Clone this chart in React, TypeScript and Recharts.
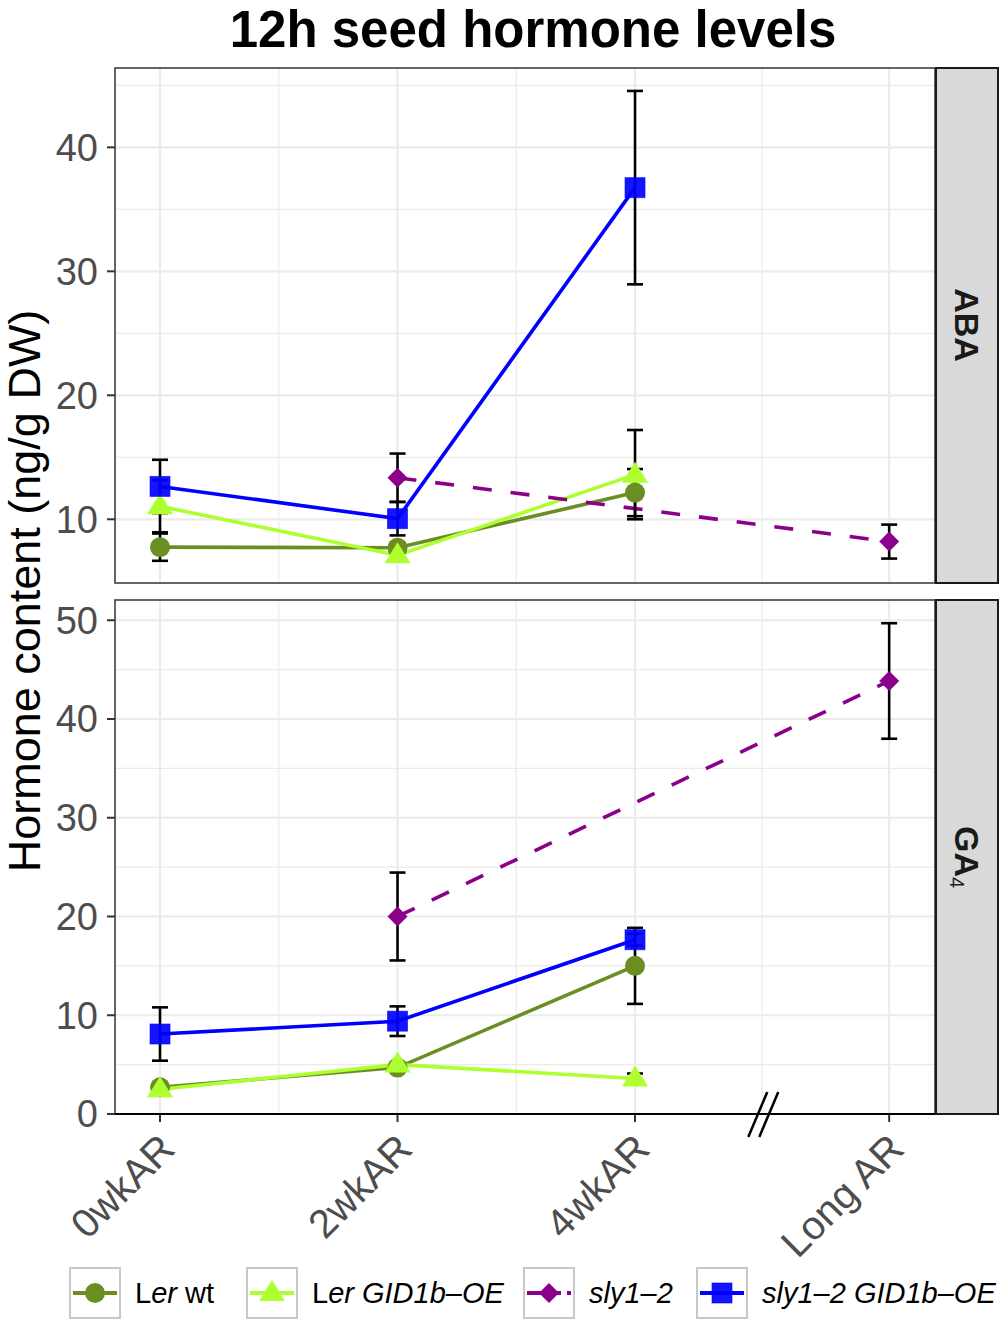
import React from 'react';
import {
  LineChart,
  Line,
  XAxis,
  YAxis,
  ErrorBar,
  CartesianGrid,
  ReferenceDot,
} from 'recharts';

const FONT = '"Liberation Sans", Arial, Helvetica, sans-serif';

// x positions: Long AR sits a little further out, behind the axis break
const stages = ['0wkAR', '2wkAR', '4wkAR', 'Long AR'];
const stagePos = [0, 1, 2, 3.07];
const xMinor = [0.5, 1.5, 2.535];
const xDomain = [-0.1895, 3.263];

// ABA, ng/g DW (mean, error)
const lerWtAba = [7.75, 7.7, 12.15, null];
const lerWtAbaErr = [1.1, 0.4, 1.9, null];
const lerOeAba = [11.05, 7.1, 13.6, null];
const lerOeAbaErr = [2.1, 0.2, 3.6, null];
const slyAba = [null, 13.35, null, 8.2];
const slyAbaErr = [null, 1.95, null, 1.37];
const slyOeAba = [12.65, 10.05, 36.75, null];
const slyOeAbaErr = [2.15, 1.35, 7.8, null];

// GA4, ng/g DW (mean, error)
const lerWtGa = [2.7, 4.7, 15.0, null];
const lerWtGaErr = [0.25, 0.3, 3.85, null];
const lerOeGa = [2.5, 5.0, 3.6, null];
const lerOeGaErr = [0.15, 0.2, 0.5, null];
const slyGa = [null, 20.0, null, 43.85];
const slyGaErr = [null, 4.45, null, 5.85];
const slyOeGa = [8.1, 9.4, 17.65, null];
const slyOeGaErr = [2.7, 1.5, 0.6, null];

const abaTicks = [10, 20, 30, 40];
const abaMinor = [15, 25, 35, 45];
const gaTicks = [0, 10, 20, 30, 40, 50];
const gaMinor = [5, 15, 25, 35, 45];

const seriesColors = ['#6B8E23', '#ADFF2F', '#8B008B', '#0000FF'];
const seriesShapes = ['circle', 'triangle', 'diamond', 'square'];
const seriesDash = [undefined, undefined, '19 19', undefined];

const toPoints = (vals: (number | null)[], errs: (number | null)[]) =>
  stagePos
    .map((x, i) => ({ x, v: vals[i], e: errs[i] }))
    .filter((p) => p.v != null);

const abaSeries = [
  toPoints(lerWtAba, lerWtAbaErr),
  toPoints(lerOeAba, lerOeAbaErr),
  toPoints(slyAba, slyAbaErr),
  toPoints(slyOeAba, slyOeAbaErr),
];
const gaSeries = [
  toPoints(lerWtGa, lerWtGaErr),
  toPoints(lerOeGa, lerOeGaErr),
  toPoints(slyGa, slyGaErr),
  toPoints(slyOeGa, slyOeGaErr),
];

const drawShape = (shape: string, color: string, cx: number, cy: number, key?: any) => {
  if (shape === 'circle') return <circle key={key} cx={cx} cy={cy} r={10} fill={color} />;
  if (shape === 'square')
    return <rect key={key} x={cx - 10} y={cy - 10} width={20} height={20} fill={color} fillOpacity={0.92} stroke={color} strokeOpacity={0.6} />;
  if (shape === 'diamond')
    return <polygon key={key} points={`${cx},${cy - 10} ${cx + 10},${cy} ${cx},${cy + 10} ${cx - 10},${cy}`} fill={color} />;
  return (
    <polygon key={key} points={`${cx},${cy - 13} ${cx + 13},${cy + 8} ${cx - 13},${cy + 8}`} fill={color} />
  );
};

const makeDot = (shape: string, color: string) => (props: any) => {
  const { cx, cy, index } = props;
  if (cx == null || cy == null) return <g key={`d-${index}`} />;
  return drawShape(shape, color, cx, cy, `d-${index}`);
};

const XTick = (props: any) => {
  const { x, y, payload } = props;
  const idx = stagePos.indexOf(payload.value);
  const ax = x + 17;
  const ay = y + 27;
  return (
    <text
      x={ax}
      y={ay}
      transform={`rotate(-45 ${ax} ${ay})`}
      textAnchor="end"
      fill="#4d4d4d"
      fontSize={40}
      fontFamily={FONT}
    >
      {stages[idx]}
    </text>
  );
};

const BreakMark = (props: any) => {
  const { cx, cy } = props;
  return (
    <g>
      <line x1={cx - 15} y1={cy + 23} x2={cx + 4} y2={cy - 22} stroke="#000" strokeWidth={2.5} />
      <line x1={cx - 4} y1={cy + 23} x2={cx + 15} y2={cy - 22} stroke="#000" strokeWidth={2.5} />
    </g>
  );
};

const Panel = ({ series, yDomain, yTicks, yMinor, showX, width, height, margin }: any) => (
  <LineChart width={width} height={height} margin={margin}>
    <CartesianGrid
      stroke="#ebebeb"
      strokeWidth={1.2}
      horizontalValues={yMinor}
      verticalValues={xMinor}
    />
    <CartesianGrid
      stroke="#ebebeb"
      strokeWidth={2.2}
      horizontalValues={yTicks}
      verticalValues={stagePos}
    />
    <XAxis
      type="number"
      dataKey="x"
      domain={xDomain}
      ticks={stagePos}
      allowDataOverflow
      hide={!showX}
      height={140}
      axisLine={false}
      tickSize={8}
      tickLine={{ stroke: '#333', strokeWidth: 2 }}
      tick={<XTick />}
      interval={0}
    />
    <YAxis
      type="number"
      domain={yDomain}
      ticks={yTicks}
      allowDataOverflow
      width={60}
      axisLine={false}
      tickSize={8}
      tickMargin={9}
      tickLine={{ stroke: '#333', strokeWidth: 2 }}
      tick={{ fill: '#4d4d4d', fontSize: 38, fontFamily: FONT }}
      interval={0}
    />
    {series.map((pts: any, i: number) => (
      <Line
        key={`line-${i}`}
        data={pts}
        dataKey="v"
        type="linear"
        stroke={seriesColors[i]}
        strokeWidth={3.6}
        strokeDasharray={seriesDash[i]}
        dot={makeDot(seriesShapes[i], seriesColors[i])}
        activeDot={false}
        isAnimationActive={false}
      />
    ))}
    {series.map((pts: any, i: number) => (
      <Line
        key={`err-${i}`}
        data={pts}
        dataKey="v"
        type="linear"
        stroke="none"
        dot={false}
        activeDot={false}
        isAnimationActive={false}
      >
        <ErrorBar dataKey="e" width={8} stroke="#000" strokeWidth={2.6} direction="y" />
      </Line>
    ))}
    {showX && (
      <ReferenceDot x={2.54} y={0} r={0} shape={<BreakMark />} ifOverflow="visible" />
    )}
  </LineChart>
);

const legendNames = [
  [['L', false], ['er', true], [' wt', false]],
  [['L', false], ['er GID1b\u2013OE', true]],
  [['sly1\u20132', true]],
  [['sly1\u20132 GID1b\u2013OE', true]],
];
const legendBoxX = [70, 247, 524, 697];

export default function App() {
  return (
    <div style={{ position: 'absolute', left: 0, top: 0, width: 1004, height: 1326, background: '#fff', fontFamily: FONT }}>
      <div style={{ position: 'absolute', left: 0, top: 0 }}>
        <Panel
          series={abaSeries}
          yDomain={[4.86, 46.4]}
          yTicks={abaTicks}
          yMinor={abaMinor}
          showX={false}
          width={1004}
          height={600}
          margin={{ top: 68, right: 69, bottom: 17, left: 55 }}
        />
      </div>
      <div style={{ position: 'absolute', left: 0, top: 590 }}>
        <Panel
          series={gaSeries}
          yDomain={[0, 52.05]}
          yTicks={gaTicks}
          yMinor={gaMinor}
          showX
          width={1004}
          height={736}
          margin={{ top: 10, right: 69, bottom: 72, left: 55 }}
        />
      </div>
      <svg width={1004} height={1326} style={{ position: 'absolute', left: 0, top: 0, pointerEvents: 'none' }}>
        <text x={533} y={47} textAnchor="middle" fontSize={51} fontWeight="bold" fill="#000" fontFamily={FONT}>
          12h seed hormone levels
        </text>
        <text
          x={40}
          y={591}
          transform="rotate(-90 40 591)"
          textAnchor="middle"
          fontSize={45}
          fill="#000"
          fontFamily={FONT}
        >
          Hormone content (ng/g DW)
        </text>
        <rect x={115} y={68} width={820} height={515} fill="none" stroke="#333" strokeWidth={1.5} />
        <rect x={115} y={600} width={820} height={514} fill="none" stroke="#333" strokeWidth={1.5} />
        <line x1={115} y1={1114} x2={935} y2={1114} stroke="#000" strokeWidth={2} />
        <rect x={936} y={68} width={62} height={515} fill="#d9d9d9" stroke="#1a1a1a" strokeWidth={2} />
        <rect x={936} y={600} width={62} height={514} fill="#d9d9d9" stroke="#1a1a1a" strokeWidth={2} />
        <text
          x={967}
          y={325}
          transform="rotate(90 967 325)"
          textAnchor="middle"
          dominantBaseline="central"
          fontSize={34}
          fontWeight="bold"
          fill="#1a1a1a"
          fontFamily={FONT}
        >
          ABA
        </text>
        <text
          x={967}
          y={857}
          transform="rotate(90 967 857)"
          textAnchor="middle"
          dominantBaseline="central"
          fontSize={34}
          fontWeight="bold"
          fill="#1a1a1a"
          fontFamily={FONT}
        >
          GA
          <tspan fontSize={20} fontWeight="normal" dy={10}>4</tspan>
        </text>
        {legendNames.map((parts, i) => {
          const bx = legendBoxX[i];
          const cy = 1293;
          return (
            <g key={`leg-${i}`}>
              <rect x={bx} y={1268} width={50} height={50} fill="#fff" stroke="#c8c8c8" strokeWidth={2} />
              <line
                x1={bx + 3}
                y1={cy}
                x2={bx + 47}
                y2={cy}
                stroke={seriesColors[i]}
                strokeWidth={4}
                strokeDasharray={seriesDash[i] ? '14 6' : undefined}
              />
              {drawShape(seriesShapes[i], seriesColors[i], bx + 25, cy)}
              <text x={bx + 65} y={cy + 10} fontSize={29} fill="#000" fontFamily={FONT}>
                {parts.map((p: any, j: number) => (
                  <tspan key={j} fontStyle={p[1] ? 'italic' : 'normal'}>
                    {p[0]}
                  </tspan>
                ))}
              </text>
            </g>
          );
        })}
      </svg>
    </div>
  );
}
